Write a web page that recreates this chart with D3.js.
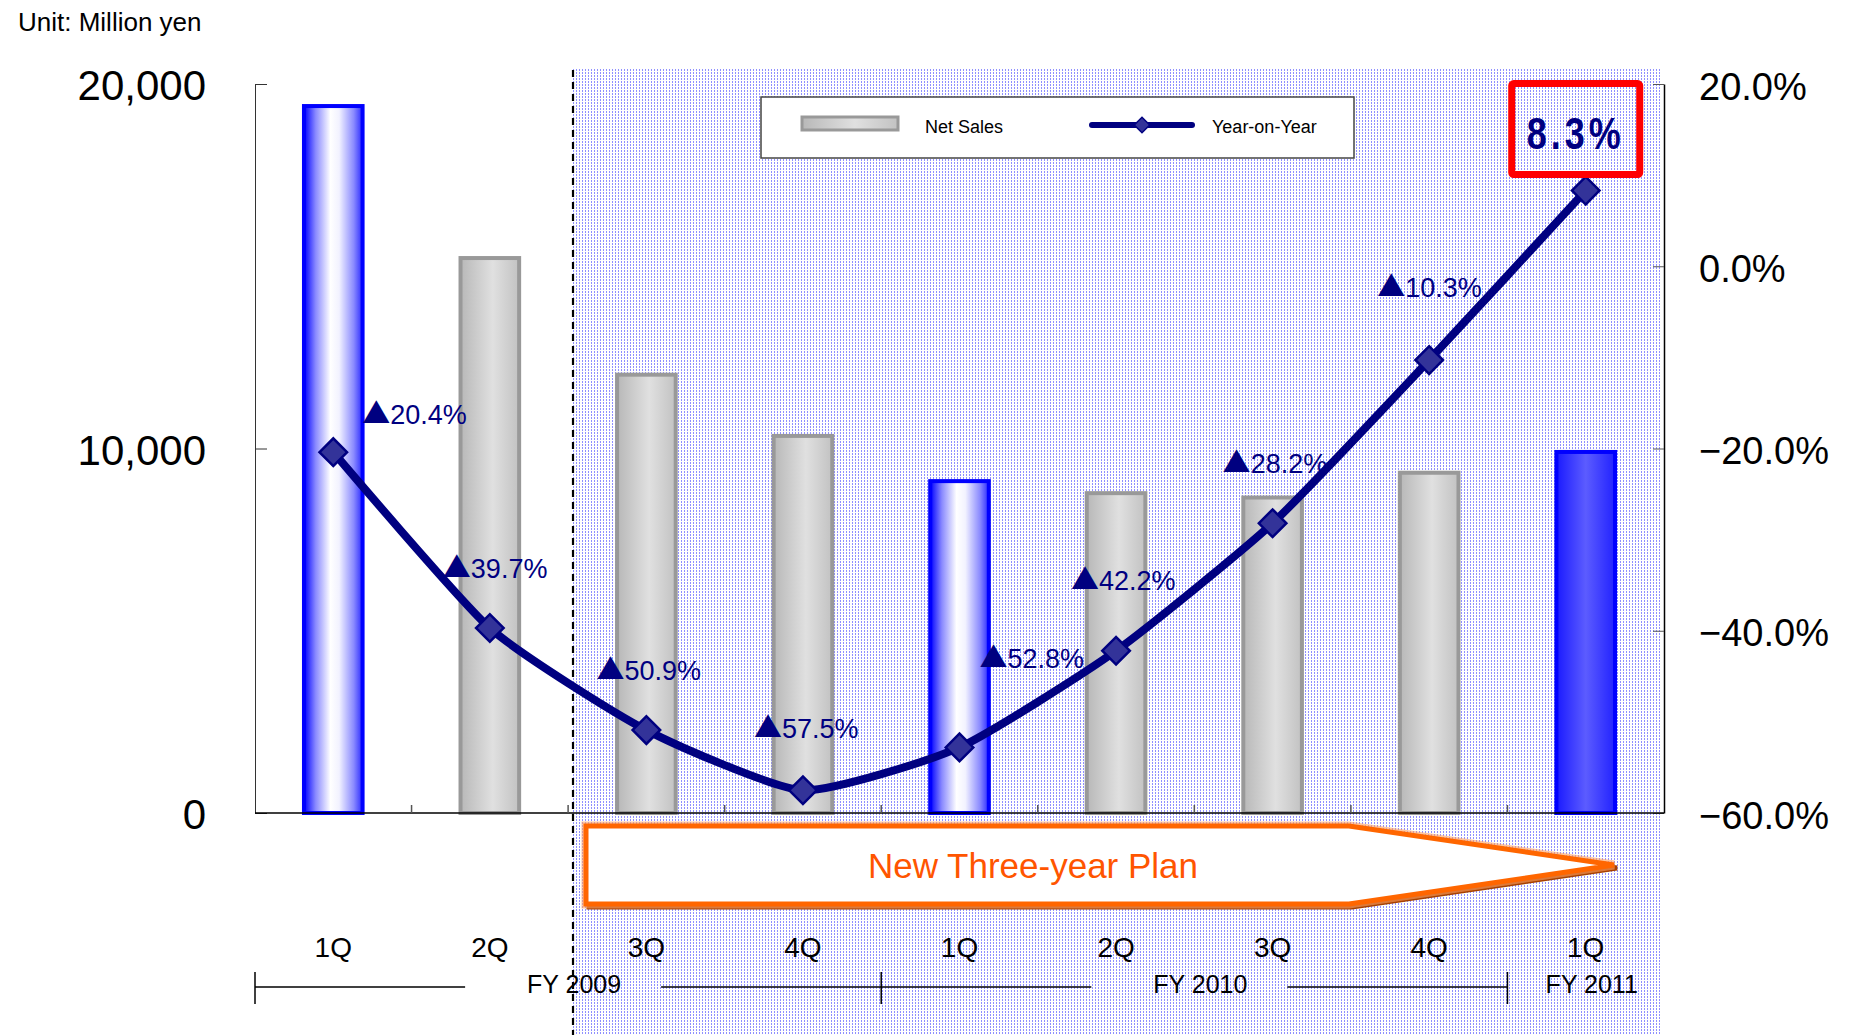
<!DOCTYPE html>
<html>
<head>
<meta charset="utf-8">
<script src="https://cdn.jsdelivr.net/npm/d3@7"></script>
<style>
  body { margin: 0; background: #fff; }
  text { font-family: "Liberation Sans", Arial, sans-serif; }
</style>
</head>
<body>
<svg id="chart"></svg>
<script>
// data
const quarters = ["1Q", "2Q", "3Q", "4Q", "1Q", "2Q", "3Q", "4Q", "1Q"];
const fiscalYears = ["FY 2009", "FY 2010", "FY 2011"];
const quartersPerYear = [4, 4, 1];
const netSales = [19450, 15280, 12080, 10400, 9160, 8830, 8710, 9390, 9960];
const yoyChange = [-20.4, -39.7, -50.9, -57.5, -52.8, -42.2, -28.2, -10.3, 8.3];
const salesTicks = [0, 10000, 20000];
const yoyTicks = [-60, -40, -20, 0, 20];

// layout only: where each data label sits relative to its point
const labelOffsets = [[29, -38], [-47, -60], [-50, -60], [-49, -62], [20, -89],
                      [-45, -71], [-50, -60], [-52, -73], [-10, -61]];

const W = 1850, H = 1035;
const plot = { left: 255, right: 1664, top: 84, bottom: 813 };
const planStart = 573;

const svg = d3.select("#chart").attr("width", W).attr("height", H);
const defs = svg.append("defs");

// background texture of the plan period
const pat = defs.append("pattern").attr("id", "dots")
    .attr("width", 3).attr("height", 3).attr("patternUnits", "userSpaceOnUse");
pat.append("rect").attr("width", 3).attr("height", 3).attr("fill", "#fff");
pat.append("rect").attr("width", 1).attr("height", 2).attr("fill", "#8f8fff");

function hGradient(id, stops) {
    const g = defs.append("linearGradient").attr("id", id)
        .attr("x1", "0%").attr("x2", "100%").attr("y1", "0%").attr("y2", "0%");
    stops.forEach(s => g.append("stop").attr("offset", s[0]).attr("stop-color", s[1]));
}
hGradient("greyGrad", [["0%", "#b8b8b8"], ["55%", "#e0e0e0"], ["100%", "#c2c2c2"]]);
hGradient("blueGrad", [["0%", "#0000ff"], ["20%", "#8a8aff"], ["45%", "#ffffff"],
                       ["60%", "#f2f2ff"], ["85%", "#8a8aff"], ["100%", "#2a2aff"]]);
hGradient("solidGrad", [["0%", "#1a1aff"], ["50%", "#5c5cff"], ["100%", "#2222ff"]]);

const x = d3.scaleBand().domain(d3.range(quarters.length))
    .range([plot.left, plot.right]).paddingInner(0.6).paddingOuter(0.3);
const step = x.step();
const boundary = i => plot.left + i * step;
const cx = i => x(i) + x.bandwidth() / 2;

const yL = d3.scaleLinear().domain([0, 20000]).range([plot.bottom, plot.top]);
const yR = d3.scaleLinear().domain([-60, 20]).range([plot.bottom, plot.top]);

svg.append("rect").attr("x", planStart).attr("y", 68)
    .attr("width", 1661 - planStart).attr("height", H - 68)
    .attr("fill", "url(#dots)");

svg.append("line").attr("x1", planStart).attr("x2", planStart)
    .attr("y1", 70).attr("y2", H)
    .attr("stroke", "#000").attr("stroke-width", 2.2).attr("stroke-dasharray", "7,5");

svg.append("text").attr("x", 18).attr("y", 31)
    .attr("font-size", 26).text("Unit: Million yen");

// bars
svg.selectAll(".bar").data(netSales).enter().append("rect")
    .attr("class", "bar")
    .attr("x", (d, i) => x(i) + 2)
    .attr("width", x.bandwidth() - 4)
    .attr("y", d => yL(d) + 2)
    .attr("height", d => plot.bottom - yL(d) - 2)
    .attr("fill", (d, i) => i === netSales.length - 1 ? "url(#solidGrad)"
        : quarters[i] === "1Q" ? "url(#blueGrad)" : "url(#greyGrad)")
    .attr("stroke", (d, i) => quarters[i] === "1Q" ? "#0000ff" : "#999")
    .attr("stroke-width", 4);

// axes
const leftAxis = svg.append("g").attr("transform", `translate(${plot.left},0)`)
    .call(d3.axisLeft(yL).tickValues(salesTicks).tickSizeInner(-12).tickSizeOuter(0)
        .tickPadding(49).tickFormat(d3.format(",")));
leftAxis.selectAll("text").attr("font-size", 42).attr("fill", "#000")
    .attr("font-family", "Liberation Sans, Arial, sans-serif").attr("dy", "0.38em");
leftAxis.selectAll("line, path").attr("stroke", "#333");

const rightAxis = svg.append("g").attr("transform", `translate(${plot.right},0)`)
    .call(d3.axisRight(yR).tickValues(yoyTicks).tickSizeInner(-11).tickSizeOuter(0)
        .tickPadding(35).tickFormat(d => d3.format(".1f")(d) + "%"));
rightAxis.selectAll("text").attr("font-size", 38).attr("fill", "#000")
    .attr("font-family", "Liberation Sans, Arial, sans-serif").attr("dy", "0.4em");
rightAxis.select("path").attr("stroke", "#000").attr("stroke-width", 1.5);
rightAxis.selectAll("line").attr("stroke", "#555");

svg.append("line").attr("x1", plot.left).attr("x2", plot.right)
    .attr("y1", plot.bottom).attr("y2", plot.bottom)
    .attr("stroke", "#000").attr("stroke-width", 1.5);
svg.selectAll(".xtick").data(d3.range(1, quarters.length)).enter().append("line")
    .attr("x1", i => boundary(i)).attr("x2", i => boundary(i))
    .attr("y1", plot.bottom).attr("y2", plot.bottom - 8)
    .attr("stroke", "#555").attr("stroke-width", 1.5);

// legend
const lg = svg.append("g");
lg.append("rect").attr("x", 761).attr("y", 97).attr("width", 593).attr("height", 61)
    .attr("fill", "#fff").attr("stroke", "#444").attr("stroke-width", 1.5);
lg.append("rect").attr("x", 802).attr("y", 117).attr("width", 96).attr("height", 13)
    .attr("fill", "url(#greyGrad)").attr("stroke", "#999").attr("stroke-width", 3);
lg.append("text").attr("x", 925).attr("y", 127).attr("dy", "0.35em")
    .attr("font-size", 18).text("Net Sales");
lg.append("line").attr("x1", 1092).attr("x2", 1192).attr("y1", 125).attr("y2", 125)
    .attr("stroke", "#000080").attr("stroke-width", 6).attr("stroke-linecap", "round");
lg.append("path").attr("d", d3.symbol(d3.symbolSquare, 120)())
    .attr("transform", "translate(1142,125) rotate(45)")
    .attr("fill", "#333399").attr("stroke", "#000080").attr("stroke-width", 1.5);
lg.append("text").attr("x", 1212).attr("y", 127).attr("dy", "0.35em")
    .attr("font-size", 18).text("Year-on-Year");

// year-on-year line
const line = d3.line().x((d, i) => cx(i)).y(d => yR(d))
    .curve(d3.curveCardinal.tension(0.45));
svg.append("path").datum(yoyChange).attr("d", line)
    .attr("fill", "none").attr("stroke", "#000080").attr("stroke-width", 8)
    .attr("stroke-linejoin", "round");
svg.selectAll(".mark").data(yoyChange).enter().append("path")
    .attr("class", "mark")
    .attr("d", d3.symbol(d3.symbolSquare, 380)())
    .attr("transform", (d, i) => `translate(${cx(i)},${yR(d)}) rotate(45)`)
    .attr("fill", "#333399").attr("stroke", "#000080").attr("stroke-width", 2.5);

// data labels
const fmtPct = d3.format(".1f");
yoyChange.forEach((v, i) => {
    const px = cx(i) + labelOffsets[i][0], py = yR(v) + labelOffsets[i][1];
    if (v < 0) {
        const t = svg.append("text").attr("x", px).attr("y", py).attr("dy", "0.36em")
            .attr("font-size", 27).attr("fill", "#000080");
        t.append("tspan").attr("font-family", "Noto Sans CJK JP, DejaVu Sans, sans-serif")
            .attr("font-size", 28).text("▲");
        t.append("tspan").text(fmtPct(-v) + "%");
    } else {
        svg.append("rect").attr("x", px - 64).attr("y", py - 46)
            .attr("width", 128).attr("height", 91).attr("rx", 2)
            .attr("fill", "none").attr("stroke", "#ff0000").attr("stroke-width", 7);
        svg.append("text").attr("transform", `translate(${px},${py + 3}) scale(0.8,1)`)
            .attr("text-anchor", "middle").attr("dy", "0.36em")
            .attr("font-size", 45).attr("font-weight", "bold").attr("letter-spacing", 5)
            .attr("fill", "#000080").text(fmtPct(v) + "%");
    }
});

// plan arrow
const ax0 = 586, ax1 = 1349, tip = 1614, aTop = 826, aBot = 904, aMid = (aTop + aBot) / 2;
const arrowPts = [[ax0, aTop], [ax1, aTop], [tip, aMid], [ax1, aBot], [ax0, aBot]];
svg.append("polygon").attr("points", arrowPts.map(p => [p[0] + 3, p[1] + 3].join(",")).join(" "))
    .attr("fill", "none").attr("stroke", "#a64000").attr("stroke-width", 5)
    .attr("stroke-linejoin", "miter");
svg.append("polygon").attr("points", arrowPts.map(p => p.join(",")).join(" "))
    .attr("fill", "none").attr("stroke", "#ffa060").attr("stroke-width", 9)
    .attr("stroke-opacity", 0.6);
svg.append("polygon").attr("points", arrowPts.map(p => p.join(",")).join(" "))
    .attr("fill", "#fff").attr("stroke", "#ff6600").attr("stroke-width", 5);
svg.append("text").attr("x", 1033).attr("y", aMid).attr("dy", "0.36em")
    .attr("text-anchor", "middle").attr("font-size", 35).attr("fill", "#ff5500")
    .text("New Three-year Plan");

// quarter labels
svg.selectAll(".qlab").data(quarters).enter().append("text")
    .attr("x", (d, i) => cx(i)).attr("y", 947).attr("dy", "0.36em")
    .attr("text-anchor", "middle").attr("font-size", 28).text(d => d);

// fiscal year brackets
let start = 0;
fiscalYears.forEach((fy, k) => {
    const a = boundary(start), b = boundary(start + quartersPerYear[k]);
    const c = (a + b) / 2, yb = 987;
    svg.append("line").attr("x1", a).attr("x2", a).attr("y1", 972).attr("y2", 1004)
        .attr("stroke", "#000").attr("stroke-width", 1.5);
    if (c - 103 > a) {
        svg.append("line").attr("x1", a).attr("x2", c - 103).attr("y1", yb).attr("y2", yb)
            .attr("stroke", "#000").attr("stroke-width", 1.5);
        svg.append("line").attr("x1", c + 93).attr("x2", b).attr("y1", yb).attr("y2", yb)
            .attr("stroke", "#000").attr("stroke-width", 1.5);
    }
    svg.append("text").attr("x", c + 6).attr("y", 984).attr("dy", "0.36em")
        .attr("text-anchor", "middle").attr("font-size", 25).text(fy);
    start += quartersPerYear[k];
});
</script>
</body>
</html>
